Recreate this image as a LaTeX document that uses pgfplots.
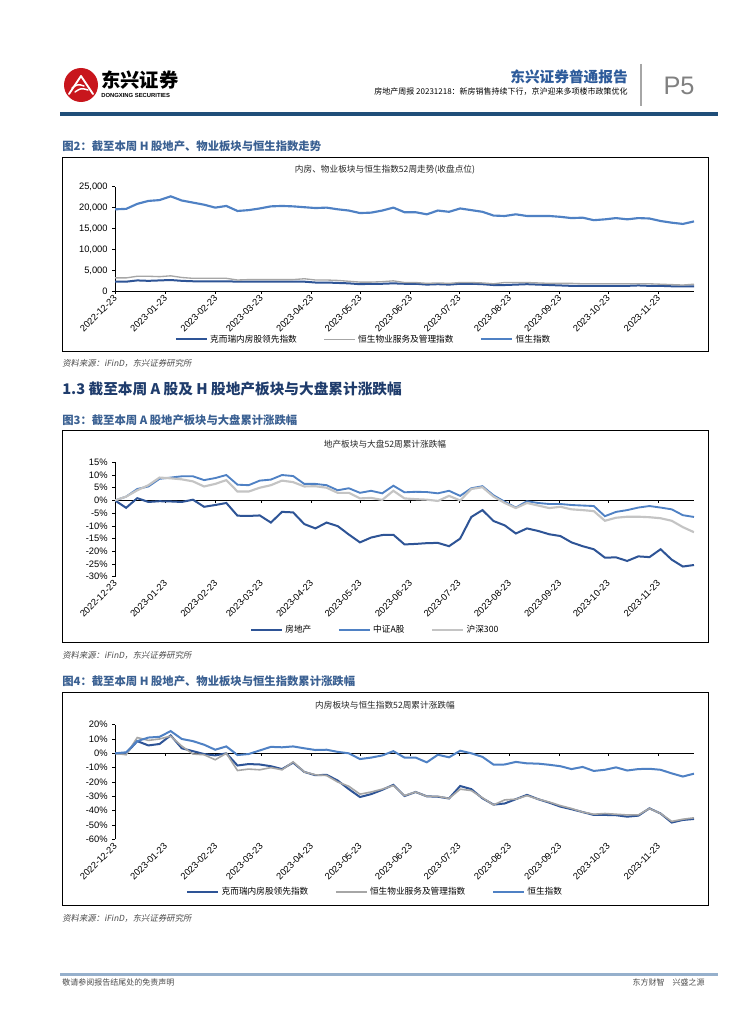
\documentclass[border=0pt]{standalone}
\usepackage{fontspec}
\setmainfont{Liberation Sans}
\newfontfamily\cjk{Noto Sans CJK SC}
\newfontfamily\cjksl{Noto Sans CJK SC}[FakeSlant=0.18]
\usepackage{pgfplots}
\usepackage{pgfplotstable}
\pgfplotsset{compat=1.18}

\definecolor{dkblue}{RGB}{46,84,150}
\definecolor{mdblue}{RGB}{79,129,196}
\definecolor{ltgray}{RGB}{166,166,166}
\definecolor{hsgray}{RGB}{196,196,196}
\definecolor{capblue}{RGB}{58,96,146}
\definecolor{navy}{RGB}{31,60,108}
\definecolor{hdblue}{RGB}{44,90,154}
\definecolor{rulebl}{RGB}{31,78,121}
\definecolor{footbl}{RGB}{150,176,204}
\definecolor{logored}{RGB}{200,22,29}

% H shares, closing points
\pgfplotstableread{
w cric pms hsi
0 2300 3200 19600
1 2300 3200 19700
2 2600 3600 20900
3 2500 3600 21600
4 2600 3500 21800
5 2700 3700 22700
6 2500 3300 21700
7 2400 3100 21200
8 2400 3100 20700
9 2400 3100 20000
10 2400 3100 20400
11 2300 2700 19200
12 2300 2800 19400
13 2300 2800 19800
14 2300 2800 20300
15 2300 2800 20400
16 2300 2800 20300
17 2300 3000 20100
18 2100 2700 19900
19 2100 2700 20000
20 2000 2600 19600
21 1900 2400 19300
22 1700 2200 18700
23 1800 2200 18800
24 1800 2300 19300
25 1900 2500 20000
26 1800 2100 18900
27 1800 2100 18900
28 1600 1900 18400
29 1700 2000 19300
30 1600 1900 19000
31 1800 2100 19800
32 1800 2100 19400
33 1700 2000 19000
34 1500 1800 18100
35 1500 2100 18000
36 1600 2100 18400
37 1700 2100 18000
38 1600 2000 18000
39 1500 1900 18000
40 1400 1900 17800
41 1300 1900 17500
42 1300 1800 17600
43 1300 1800 17000
44 1300 1800 17200
45 1300 1800 17500
46 1300 1800 17200
47 1400 1800 17500
48 1300 1800 17400
49 1300 1700 16800
50 1200 1600 16400
51 1200 1500 16100
52 1200 1700 16700
}\tabA

% A shares, cumulative change in %
\pgfplotstableread{
w fdc zz hs
0 0 0 0
1 -2.9 1.5 1.5
2 0.9 4.5 4.0
3 -0.6 5.5 6.0
4 -0.3 8.5 9.0
5 -0.4 9.0 8.7
6 -0.6 9.5 8.3
7 0.3 9.5 7.5
8 -2.5 8.0 5.5
9 -1.8 8.8 6.5
10 -1.0 10.0 8.0
11 -6.0 6.2 3.5
12 -6.1 6.0 3.5
13 -5.9 7.8 5.0
14 -8.7 8.2 6.0
15 -4.5 10.0 7.8
16 -4.7 9.6 7.2
17 -9.3 6.5 5.5
18 -11.0 6.5 5.6
19 -8.7 6.0 5.0
20 -10.1 4.0 3.0
21 -13.4 4.8 3.0
22 -16.5 3.0 0.8
23 -14.6 3.8 1.0
24 -13.6 2.8 0.2
25 -13.5 5.8 3.8
26 -17.3 3.2 0.8
27 -17.1 3.4 0.5
28 -16.8 3.3 0.3
29 -16.7 2.8 -0.2
30 -18.0 3.8 1.8
31 -15.0 1.8 0.0
32 -6.5 4.8 4.5
33 -3.8 5.6 5.2
34 -8.1 2.0 1.5
35 -9.8 -0.5 -1.0
36 -13.0 -2.8 -3.0
37 -11.0 -0.3 -1.0
38 -12.0 -1.0 -2.0
39 -13.3 -1.4 -3.0
40 -14.0 -1.4 -2.5
41 -16.5 -1.8 -3.5
42 -18.0 -2.0 -3.8
43 -19.2 -2.2 -4.2
44 -22.5 -6.2 -8.0
45 -22.4 -4.5 -6.8
46 -23.8 -3.8 -6.4
47 -22.0 -2.8 -6.4
48 -22.3 -2.2 -6.6
49 -19.2 -2.8 -7.0
50 -23.3 -3.5 -8.0
51 -26.0 -5.8 -10.5
52 -25.4 -6.5 -12.5
}\tabB

% H shares, cumulative change in %
\pgfplotstableread{
w cric pms hsi
0 0 0 0
1 0 -1 0.7
2 8.5 11 8.5
3 5.5 9 11
4 6.5 10 11.5
5 12.5 12 15.5
6 3.5 5 10
7 1.5 -0.5 8.5
8 -0.5 -1 6
9 -1.5 -4.5 2.5
10 0 0 4.8
11 -8.5 -12 -1.2
12 -7.5 -11 -0.5
13 -7.8 -11.5 2.0
14 -9 -10 4.5
15 -11 -11.5 4.2
16 -6.5 -6 4.8
17 -13 -13 3.5
18 -15.3 -15 2.3
19 -15 -15.5 2.5
20 -19 -20 1.0
21 -25 -23 0
22 -30.5 -28.5 -4
23 -28.5 -27 -3
24 -25.5 -25 -1.5
25 -22 -22.5 1.5
26 -29.8 -29.5 -3
27 -27 -27 -3
28 -30 -30 -6.3
29 -30.3 -30 -1
30 -31.5 -31.5 -2.8
31 -22.8 -25 1.8
32 -25 -26 0
33 -31.4 -31 -2.5
34 -35.8 -36 -7.9
35 -35 -32.5 -7.8
36 -32 -32 -6
37 -29 -29.5 -7
38 -32 -32 -7.2
39 -34.4 -34 -8
40 -37.2 -36.5 -9
41 -39 -38.5 -11
42 -41 -41 -9.5
43 -43 -42.5 -12.3
44 -43 -42 -11.5
45 -43.2 -42.5 -9.8
46 -44.2 -43 -12
47 -43.5 -43 -11
48 -38.4 -38.5 -10.8
49 -42 -42 -11.5
50 -48.3 -47.5 -14
51 -46.5 -46 -16.2
52 -45.8 -45 -14.2
}\tabC

\pgfplotsset{
  pagechart/.style={
    scale only axis, width=434.25pt,
    xmin=0, xmax=52,
    xtick={0,4.515,9.03,13.11,17.63,21.99,26.51,30.88,35.40,39.91,44.28,48.80},
    xticklabels={2022-12-23,2023-01-23,2023-02-23,2023-03-23,2023-04-23,2023-05-23,
      2023-06-23,2023-07-23,2023-08-23,2023-09-23,2023-10-23,2023-11-23},
    axis x line*=bottom, axis y line*=left,
    axis line style={black, line width=0.4pt, -},
    tick align=outside, major tick length=2pt,
    tick style={black, line width=0.4pt},
    tick label style={font=\fontsize{7}{8}\selectfont},
    xticklabel style={rotate=45, anchor=east, inner sep=1pt, yshift=-1.5pt},
    /pgf/number format/assume math mode=true,
    legend columns=3,
    legend cell align=left,
    legend style={draw=none, fill=none, anchor=center,
      font=\cjk\fontsize{6.5}{8}\selectfont,
      /tikz/every even column/.append style={column sep=18pt}},
    legend image code/.code={\draw[#1] (0pt,0pt) -- (23pt,0pt);},
  },
  zeroaxis/.style={
    x axis line style={draw=none},
    xtick style={draw=none},
    yticklabel={\pgfmathprintnumber{\tick}\%},
  },
}

\begin{document}
\begin{tikzpicture}
\begin{scope}[x=0.75pt,y=-0.75pt]
\path[use as bounding box, fill=white] (0,0) rectangle (755,1024);

% header
\fill[logored] (81,85) circle (17);
\draw[white, line width=1.4pt, line cap=round, line join=round] (69,94) -- (81,76) -- (93,94);
\draw[white, line width=1.1pt, line cap=round] (72,88) .. controls (78,84) .. (84,86);
\draw[white, line width=1.1pt, line cap=round] (75,92) .. controls (81,88) .. (88,90);
\node[anchor=west, inner sep=0] at (101,80) {\cjk\bfseries\fontsize{14.5}{16}\selectfont 东兴证券};
\node[anchor=west, inner sep=0] at (101,95.5) {\bfseries\fontsize{4.4}{5}\selectfont DONGXING SECURITIES};
\node[anchor=east, inner sep=0, text=hdblue] at (628,77) {\cjk\bfseries\fontsize{11}{12}\selectfont 东兴证券普通报告};
\node[anchor=east, inner sep=0] at (628,91.5) {\cjk\fontsize{6}{7}\selectfont 房地产周报 20231218：新房销售持续下行，京沪迎来多项楼市政策优化};
\draw[black!35, line width=0.8pt] (641,64) -- (641,106);
\node[text=black!50, inner sep=0] at (679,86) {\fontsize{19}{20}\selectfont P5};
\draw[rulebl, line width=2.4pt] (60,114) -- (718,114);

% figure 2
\node[anchor=west, inner sep=0, text=capblue] at (62,146.7) {\cjk\bfseries\fontsize{8.5}{10}\selectfont 图2：截至本周 H 股地产、物业板块与恒生指数走势};
\draw[black, line width=0.6pt] (62,157.7) rectangle (708,351.7);
\node[inner sep=0, text=black!85] at (385,170) {\cjk\fontsize{6.5}{8}\selectfont 内房、物业板块与恒生指数52周走势(收盘点位)};
\node[anchor=west, inner sep=0, text=black!70] at (62,363) {\cjksl\fontsize{6.3}{7}\selectfont 资料来源：iFinD，东兴证券研究所};

% section title and figure 3
\node[anchor=west, inner sep=0, text=navy] at (62,389) {\cjk\bfseries\fontsize{11}{13}\selectfont 1.3 截至本周 A 股及 H 股地产板块与大盘累计涨跌幅};
\node[anchor=west, inner sep=0, text=capblue] at (62,420) {\cjk\bfseries\fontsize{8.5}{10}\selectfont 图3：截至本周 A 股地产板块与大盘累计涨跌幅};
\draw[black, line width=0.6pt] (62,430) rectangle (708,642);
\node[inner sep=0, text=black!85] at (385,444) {\cjk\fontsize{6.5}{8}\selectfont 地产板块与大盘52周累计涨跌幅};
\node[anchor=west, inner sep=0, text=black!70] at (62,655) {\cjksl\fontsize{6.3}{7}\selectfont 资料来源：iFinD，东兴证券研究所};

% figure 4
\node[anchor=west, inner sep=0, text=capblue] at (62,681.7) {\cjk\bfseries\fontsize{8.5}{10}\selectfont 图4：截至本周 H 股地产、物业板块与恒生指数累计涨跌幅};
\draw[black, line width=0.6pt] (62,692.3) rectangle (708,905);
\node[inner sep=0, text=black!85] at (385,705.7) {\cjk\fontsize{6.5}{8}\selectfont 内房板块与恒生指数52周累计涨跌幅};
\node[anchor=west, inner sep=0, text=black!70] at (62,918) {\cjksl\fontsize{6.3}{7}\selectfont 资料来源：iFinD，东兴证券研究所};

% footer
\draw[footbl, line width=1.6pt] (60,974.5) -- (718,974.5);
\node[anchor=west, inner sep=0, text=black!70] at (62,982.5) {\cjk\fontsize{6}{7}\selectfont 敬请参阅报告结尾处的免责声明};
\node[anchor=east, inner sep=0, text=black!70] at (705,982.5) {\cjk\fontsize{6}{7}\selectfont 东方财智\quad 兴盛之源};
\end{scope}

% chart 1: closing points
\begin{axis}[pagechart,
  at={(86.25pt,-218.475pt)}, height=78.45pt,
  ymin=0, ymax=25000, ytick={0,5000,...,25000},
  scaled y ticks=false,
  yticklabel style={/pgf/number format/.cd, fixed, 1000 sep={,}},
  legend style={at={(axis description cs:0.43,-0.46)}},
]
\addplot[dkblue, line width=1.5pt] table[x=w, y=cric] {\tabA};
\addlegendentry{克而瑞内房股领先指数}
\addplot[ltgray, line width=1.0pt] table[x=w, y=pms] {\tabA};
\addlegendentry{恒生物业服务及管理指数}
\addplot[mdblue, line width=1.6pt] table[x=w, y=hsi] {\tabA};
\addlegendentry{恒生指数}
\end{axis}

% chart 2: A shares
\begin{axis}[pagechart, zeroaxis,
  at={(86.25pt,-432.525pt)}, height=85.8pt,
  ymin=-30, ymax=15, ytick={-30,-25,...,15},
  legend style={at={(axis description cs:0.45,-0.466)}},
]
\draw[black, line width=0.4pt] (axis cs:0,0) -- (axis cs:52,0);
\pgfplotsinvokeforeach{4.515,9.03,13.11,17.63,21.99,26.51,30.88,35.40,39.91,44.28,48.80}{
  \draw[black, line width=0.4pt] (axis cs:#1,0) -- ++(0pt,-2pt);}
\addplot[dkblue, line width=1.5pt] table[x=w, y=fdc] {\tabB};
\addlegendentry{房地产}
\addplot[mdblue, line width=1.4pt] table[x=w, y=zz] {\tabB};
\addlegendentry{中证A股}
\addplot[hsgray, line width=1.6pt] table[x=w, y=hs] {\tabB};
\addlegendentry{沪深300}
\end{axis}

% chart 3: H shares
\begin{axis}[pagechart, zeroaxis,
  at={(86.25pt,-629.475pt)}, height=86pt,
  ymin=-60, ymax=20, ytick={-60,-50,...,20},
  legend style={at={(axis description cs:0.45,-0.46)}},
]
\draw[black, line width=0.4pt] (axis cs:0,0) -- (axis cs:52,0);
\pgfplotsinvokeforeach{4.515,9.03,13.11,17.63,21.99,26.51,30.88,35.40,39.91,44.28,48.80}{
  \draw[black, line width=0.4pt] (axis cs:#1,0) -- ++(0pt,-2pt);}
\addplot[dkblue, line width=1.5pt] table[x=w, y=cric] {\tabC};
\addlegendentry{克而瑞内房股领先指数}
\addplot[ltgray, line width=1.2pt] table[x=w, y=pms] {\tabC};
\addlegendentry{恒生物业服务及管理指数}
\addplot[mdblue, line width=1.5pt] table[x=w, y=hsi] {\tabC};
\addlegendentry{恒生指数}
\end{axis}
\end{tikzpicture}
\end{document}
